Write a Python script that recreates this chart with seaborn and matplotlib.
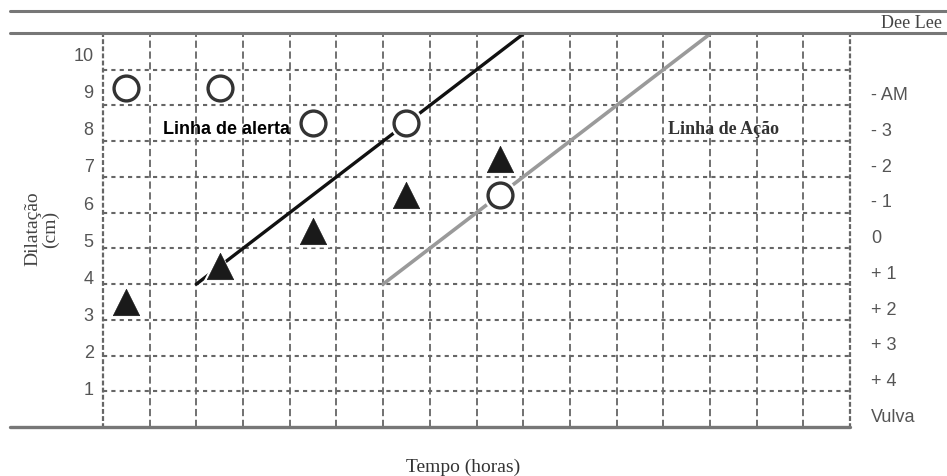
import pandas as pd
import matplotlib.pyplot as plt
import seaborn as sns
from matplotlib.lines import Line2D

# Partograma: hora de cada registo (meio de cada célula)
hours = [0.5, 2.5, 4.5, 6.5, 8.5]
circle_cm = [9.5, 9.5, 8.5, 8.5, 6.5]     # círculos abertos
triangle_cm = [3.5, 4.5, 5.5, 6.5, 7.5]   # triângulos

# Linhas de alerta e de ação (1 cm/hora)
alert_hours = [2, 9]
alert_cm = [4, 11]
action_hours = [6, 13]
action_cm = [4, 11]

dilation_ticks = [1, 2, 3, 4, 5, 6, 7, 8, 9, 10]
station_labels = ["- AM", "- 3", "- 2", "- 1", "0", "+ 1", "+ 2", "+ 3", "+ 4", "Vulva"]
n_hours = 16
max_cm = 11

sns.set_style("white")
plt.rcParams['font.family'] = ['Liberation Sans', 'DejaVu Sans']

circles = pd.DataFrame({'hora': hours, 'cm': circle_cm})
triangles = pd.DataFrame({'hora': hours, 'cm': triangle_cm})

fig = plt.figure(figsize=(9.47, 4.77), dpi=100)
ax = fig.add_axes([103 / 947, 1 - 428 / 477, 747 / 947, 393 / 477])
ax.set_xlim(0, n_hours)
ax.set_ylim(0, max_cm)

# grid
ax.set_xticks(range(1, n_hours))
ax.set_yticks(dilation_ticks)
ax.xaxis.grid(True, linestyle=(0, (4, 2)), color='#666666', lw=1.3)
ax.yaxis.grid(True, linestyle=(0, (2, 2)), color='#666666', lw=1.5)
ax.set_axisbelow(True)
ax.tick_params(length=0)
ax.set_xticklabels([])
ax.set_yticklabels([])

# rótulos da dilatação (ligeiramente acima das linhas, como no original)
for v in dilation_ticks:
    ax.text(-0.2, v + 0.04 * v, str(v), fontsize=13, color='#555555',
            va='center', ha='right', clip_on=False)

for side in ['left', 'right']:
    ax.spines[side].set_linestyle((0, (1.2, 2)))
    ax.spines[side].set_color('#666666')
    ax.spines[side].set_linewidth(1.6)
ax.spines['top'].set_visible(False)
ax.spines['bottom'].set_visible(False)

# linhas
sns.lineplot(x=alert_hours, y=alert_cm, color='#111111', lw=2.4, ax=ax, zorder=2)
sns.lineplot(x=action_hours, y=action_cm, color='#9a9a9a', lw=2.6, ax=ax, zorder=2)

# halo branco por baixo dos marcadores
sns.scatterplot(data=circles, x='hora', y='cm', marker='o', s=560, color='white',
                edgecolor='none', ax=ax, zorder=3)
sns.scatterplot(data=triangles, x='hora', y='cm', marker='^', s=600, color='white',
                edgecolor='none', ax=ax, zorder=3)

sns.scatterplot(data=circles, x='hora', y='cm', marker='o', s=320, color='white',
                edgecolor='#333333', linewidth=2.4, ax=ax, zorder=4)
sns.scatterplot(data=triangles, x='hora', y='cm', marker='^', s=360, color='#1a1a1a',
                edgecolor='#1a1a1a', linewidth=0.5, ax=ax, zorder=4)

ax.set_xlabel('')
ax.set_ylabel('')

ax.text(1.28, 8.35, 'Linha de alerta', fontsize=13, fontweight='bold', color='black',
        va='center', ha='left', zorder=5)
ax.text(12.1, 8.35, 'Linha de Ação', fontsize=13, fontweight='bold', color='#333333',
        family='Liberation Serif', va='center', ha='left', zorder=5)

# alturas da apresentação (lado direito)
for i, lab in enumerate(station_labels):
    ax.text(16.45, 9.3 - i, lab, fontsize=13, color='#555555', va='center', ha='left',
            clip_on=False)

# linhas horizontais do cabeçalho e base
for yy in [1 - 12 / 477, 1 - 34 / 477]:
    fig.add_artist(Line2D([10 / 947, 1.0], [yy, yy], color='#777777', lw=2.2))
fig.add_artist(Line2D([10 / 947, 850 / 947], [1 - 428 / 477, 1 - 428 / 477],
                      color='#777777', lw=2.4))

fig.text(942 / 947, 1 - 23 / 477, 'Dee Lee', fontsize=13, color='#444444',
         family='Liberation Serif', ha='right', va='center')
fig.text(42 / 947, 1 - 229 / 477, 'Dilatação\n(cm)', fontsize=14, color='#444444',
         family='Liberation Serif', ha='center', va='center', rotation=90,
         multialignment='center', linespacing=1.0)
fig.text(463 / 947, 1 - 467 / 477, 'Tempo (horas)', fontsize=14, color='#333333',
         family='Liberation Serif', ha='center', va='center')

fig.savefig('out.png', dpi=100)
